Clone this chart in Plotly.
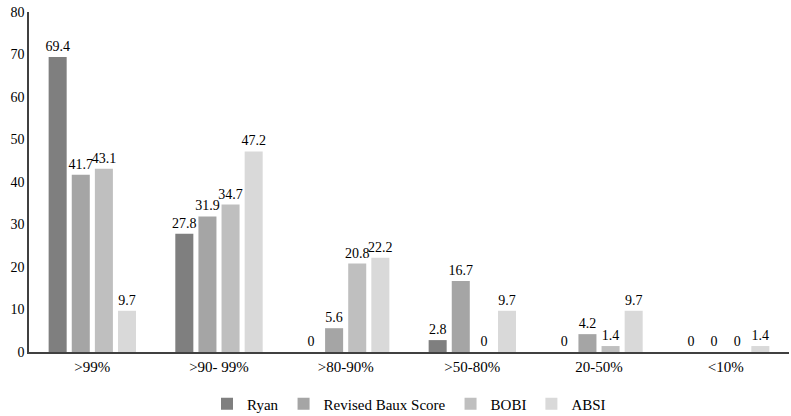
import plotly.graph_objects as go

categories = [">99%", ">90- 99%", ">80-90%", ">50-80%", "20-50%", "<10%"]
ryan = [69.4, 27.8, 0, 2.8, 0, 0]
baux = [41.7, 31.9, 5.6, 16.7, 4.2, 0]
bobi = [43.1, 34.7, 20.8, 0, 1.4, 0]
absi = [9.7, 47.2, 22.2, 9.7, 9.7, 1.4]

series = [("Ryan", ryan, "#7f7f7f"), ("Revised Baux Score", baux, "#a5a5a5"),
          ("BOBI", bobi, "#bfbfbf"), ("ABSI", absi, "#d9d9d9")]

font = "Liberation Serif, Times New Roman, serif"
fig = go.Figure()
for name, vals, col in series:
    fig.add_trace(go.Bar(
        x=categories, y=vals, name=name, marker_color=col, marker_line_width=0,
        text=[f"{v:g}" for v in vals], textposition="outside", cliponaxis=False,
        constraintext="none", textangle=0,
        textfont=dict(family=font, size=14, color="#000000"),
        outsidetextfont=dict(family=font, size=14, color="#000000"),
    ))

fig.update_layout(
    width=791, height=416, barmode="group", bargap=0.27, bargroupgap=0.22,
    margin=dict(l=29, r=2, t=12, b=64, autoexpand=False),
    plot_bgcolor="white", paper_bgcolor="white",
    font=dict(family=font, size=14, color="#000000"),
    showlegend=True,
    legend=dict(orientation="h", x=0.5, xanchor="center",
                y=-0.153, yanchor="middle",
                font=dict(family=font, size=15), traceorder="normal"),
    xaxis=dict(showline=True, linecolor="#404040", linewidth=1.5, ticks="",
               tickfont=dict(family=font, size=15), showgrid=False, automargin=False),
    yaxis=dict(range=[0, 80], dtick=10, showline=True, linecolor="#404040", linewidth=1.5,
               ticks="", showgrid=False, zeroline=False, automargin=False,
               tickfont=dict(family=font, size=14)),
)
fig.write_html("out.html", config={"displayModeBar": False},
               post_script="document.body.style.margin='0';document.body.style.overflow='hidden';")
